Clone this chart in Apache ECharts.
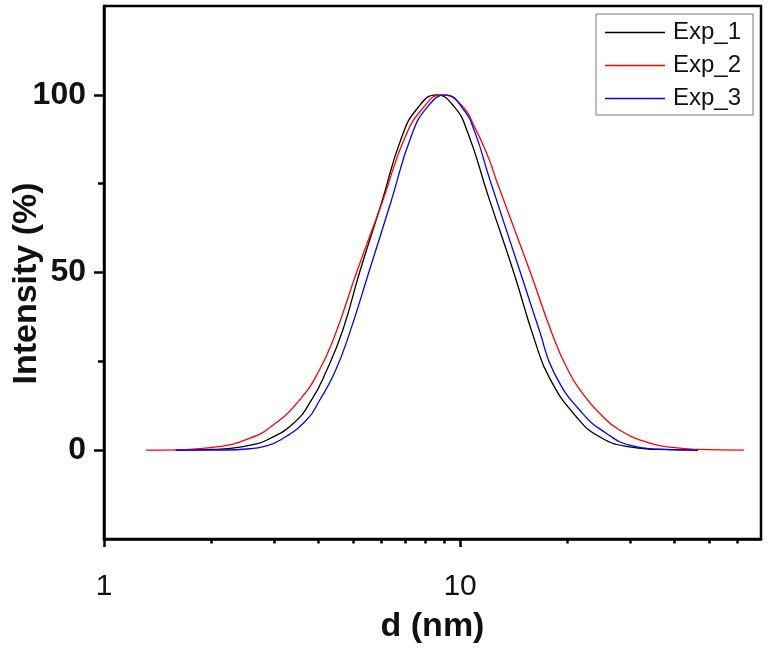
<!DOCTYPE html>
<html>
<head>
<meta charset="utf-8">
<title>Intensity vs d</title>
<script src="https://cdn.jsdelivr.net/npm/echarts@6/dist/echarts.min.js"></script>
<style>
  html, body { margin: 0; padding: 0; background: #fff; }
  #chart { width: 771px; height: 652px; }
</style>
</head>
<body>
<div id="chart"></div>
<script>
// values (d in nm, intensity in %)
const exp1D = [1.59, 2.0, 2.3, 2.6, 2.86, 3.4, 3.82, 4.2, 4.68, 5.22, 6.01, 6.85, 7.6, 8.58, 9.6, 10.5, 11.98, 14.15, 16.2, 17.85, 21.2, 24.7, 29.9, 36, 46.6]
const exp1I = [0, 0.2, 0.6, 1.5, 2.8, 7.5, 14, 22, 33.7, 50, 69.4, 88, 96.3, 100, 96.8, 89.5, 71.7, 50, 30.9, 20.2, 9.4, 3.7, 0.9, 0.2, 0]

const exp2D = [1.31, 1.6, 2.07, 2.56, 2.98, 3.54, 4.0, 4.45, 5.12, 6.07, 7.0, 7.9, 8.86, 10.0, 11.1, 12.1, 12.65, 15.76, 18.1, 19.9, 22.1, 24.7, 28.1, 34.1, 40, 46.9, 62.7]
const exp2I = [0, 0.1, 0.9, 3.3, 7.0, 14.1, 22, 32.3, 50, 70.3, 88, 96.5, 100, 97.5, 90, 81.5, 75.9, 50, 33, 23.4, 15.9, 10.3, 5.6, 2.0, 0.7, 0.2, 0]

const exp3D = [1.59, 2.2, 2.56, 2.8, 3.12, 3.7, 4.04, 4.45, 4.87, 5.54, 6.4, 7.3, 8.1, 9.11, 10.2, 11.0, 12.1, 14.77, 16.7, 18.4, 22.1, 25.8, 29.9, 36, 46.6]
const exp3I = [0, 0.05, 0.4, 1.0, 2.8, 8.4, 14.2, 22, 32.3, 50, 70, 88.5, 96.6, 100, 96, 89.5, 76.4, 50, 33.7, 21.6, 10.3, 4.7, 1.4, 0.3, 0]

const seriesNames = ['Exp_1', 'Exp_2', 'Exp_3']
const seriesColors = ['#000000', '#ff0000', '#0000ff']

const xMajorTicks = [1, 10]
const xMinorTicks = [2, 3, 4, 5, 6, 7, 8, 9, 20, 30, 40, 50, 60]
const yMajorTicks = [0, 50, 100]
const yMinorTicks = [25, 75]

const font = 'Liberation Sans, Arial, sans-serif'

function pairs(xs, ys) {
  return xs.map((x, i) => [x, ys[i]])
}

const chart = echarts.init(document.getElementById('chart'))

const lists = [[exp1D, exp1I], [exp2D, exp2I], [exp3D, exp3I]]

chart.setOption({
  animation: false,
  backgroundColor: '#fff',
  grid: {
    left: 104,
    right: 10,
    top: 6,
    bottom: 113,
    show: true,
    borderColor: '#000',
    borderWidth: 2.5,
    outerBoundsMode: 'none'
  },
  legend: {
    orient: 'vertical',
    left: 596,
    top: 14,
    padding: [6, 12, 4, 9],
    itemGap: 8,
    itemWidth: 60,
    itemHeight: 1.5,
    icon: 'rect',
    borderColor: '#777',
    borderWidth: 1,
    data: seriesNames,
    textStyle: {
      fontFamily: font,
      fontSize: 24,
      lineHeight: 25,
      color: '#111',
      padding: [0, 0, 0, 3]
    }
  },
  xAxis: [
    {
      type: 'log',
      logBase: 10,
      min: 1,
      max: 70,
      name: 'd (nm)',
      nameLocation: 'middle',
      nameGap: 71,
      nameMoveOverlap: false,
      nameTextStyle: { fontFamily: font, fontSize: 34, fontWeight: 'bold', color: '#111' },
      axisLine: { onZero: false, lineStyle: { color: '#000', width: 2.5 } },
      axisTick: { show: true, length: 8, customValues: xMajorTicks, lineStyle: { color: '#000', width: 2.5 } },
      axisLabel: {
        customValues: xMajorTicks,
        margin: 33,
        fontFamily: font,
        fontSize: 30,
        color: '#111'
      },
      splitLine: { show: false },
      minorTick: { show: false }
    },
    {
      type: 'log',
      logBase: 10,
      min: 1,
      max: 70,
      position: 'bottom',
      axisLine: { show: false, onZero: false },
      axisTick: { show: true, length: 4.5, customValues: xMinorTicks, lineStyle: { color: '#000', width: 2.5 } },
      axisLabel: { show: false },
      splitLine: { show: false }
    }
  ],
  yAxis: [
    {
      type: 'value',
      min: -25,
      max: 125,
      name: 'Intensity (%)',
      nameLocation: 'middle',
      nameGap: 60,
      nameRotate: 90,
      nameMoveOverlap: false,
      nameTextStyle: {
        fontFamily: font,
        fontSize: 34,
        fontWeight: 'bold',
        color: '#111',
        padding: [0, 22, 0, 0]
      },
      axisLine: { show: true, onZero: false, lineStyle: { color: '#000', width: 2.5 } },
      axisTick: { show: true, length: 10, customValues: yMajorTicks, lineStyle: { color: '#000', width: 2.5 } },
      axisLabel: {
        customValues: yMajorTicks,
        margin: 18,
        fontFamily: font,
        fontSize: 32,
        fontWeight: 'bold',
        color: '#111'
      },
      splitLine: { show: false }
    },
    {
      type: 'value',
      min: -25,
      max: 125,
      position: 'left',
      axisLine: { show: false, onZero: false },
      axisTick: { show: true, length: 6, customValues: yMinorTicks, lineStyle: { color: '#000', width: 2.5 } },
      axisLabel: { show: false },
      splitLine: { show: false }
    }
  ],
  series: lists.map((l, i) => ({
    name: seriesNames[i],
    type: 'line',
    xAxisIndex: 0,
    yAxisIndex: 0,
    data: pairs(l[0], l[1]),
    symbol: 'none',
    smooth: 0.5,
    color: seriesColors[i],
    lineStyle: { color: seriesColors[i], width: 1.3 }
  }))
})
</script>
</body>
</html>
